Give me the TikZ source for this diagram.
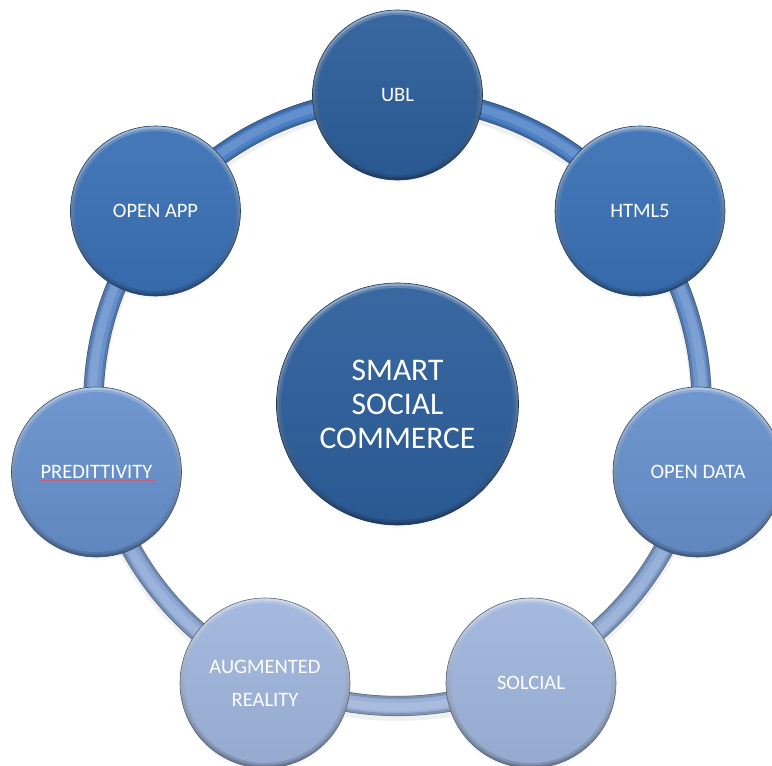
\documentclass[tikz,border=0pt]{standalone}
\usepackage{fontspec}
\setmainfont{Carlito}
\usetikzlibrary{shadows}
\definecolor{cCenter}{HTML}{2D5E9B}
\definecolor{cUBL}{HTML}{2C5E9A}
\definecolor{cTop}{HTML}{3A70B4}
\definecolor{cMid}{HTML}{6690CB}
\definecolor{cLow}{HTML}{9FB5DC}
\definecolor{ringT}{HTML}{467CC4}
\definecolor{ringB}{HTML}{9DB2D8}
\definecolor{spell}{HTML}{C0607A}
\tikzset{
  bub/.style={circle, minimum size=170pt, inner sep=0pt, text=white,
    font=\fontsize{20.5}{33}\selectfont, align=center,
    draw=#1!55!black, line width=0.6pt,
    top color=#1!50!white, bottom color=#1!65!black,
    path picture={
      \shade[top color=#1!75!white, bottom color=#1!80!black]
        (path picture bounding box.center) circle [radius=82.5pt];
      \shade[top color=#1!94!white, bottom color=#1!94!black]
        (path picture bounding box.center) circle [radius=80pt];},
    circular drop shadow={opacity=0.22, shadow xshift=0pt, shadow yshift=-4pt, shadow scale=1.0}},
  bigbub/.style={bub=#1, minimum size=242pt,
    font=\fontsize{31.5}{34}\selectfont,
    path picture={
      \shade[top color=#1!75!white, bottom color=#1!80!black]
        (path picture bounding box.center) circle [radius=118.5pt];
      \shade[top color=#1!94!white, bottom color=#1!94!black]
        (path picture bounding box.center) circle [radius=116pt];}},
  tubeedge/.style={black, opacity=0.16, line width=3pt},
}
\begin{document}
\begin{tikzpicture}[x=1pt,y=-1pt]
\clip (0,0) rectangle (772,766);
\fill[white] (0,0) rectangle (772,766);
% ring
\coordinate (ringc) at (397.5,402);
\draw[black, opacity=0.06, line width=22pt] ([yshift=-4pt]ringc) circle [radius=304pt];
\path[even odd rule, top color=ringT, bottom color=ringB]
  (ringc) circle [radius=314pt] (ringc) circle [radius=294pt];
\draw[tubeedge] (ringc) circle [radius=312.5pt];
\draw[tubeedge] (ringc) circle [radius=295.5pt];
\draw[black, opacity=0.3, line width=0.6pt] (ringc) circle [radius=313.8pt];
\draw[black, opacity=0.3, line width=0.6pt] (ringc) circle [radius=294.2pt];
\draw[white, opacity=0.14, line width=8pt] (ringc) circle [radius=305pt];
% nodes
\node[bigbub=cCenter] (center) at (397.5,404) {SMART\\SOCIAL\\COMMERCE};
\node[bub=cUBL] (ubl) at (397.5,95) {UBL};
\node[bub=cTop] (html) at (640,211) {HTML5};
\node[bub=cTop] (app) at (155.5,211) {OPEN APP};
\node[bub=cMid] (data) at (698,472) {OPEN DATA};
\node[bub=cMid] (pred) at (96.5,472) {PREDITTIVITY};
\node[bub=cLow] (sol) at (531,683) {SOLCIAL};
\node[bub=cLow] (aug) at (265,683) {AUGMENTED\\REALITY};
% spelling underline
\draw[spell, line width=0.7pt] ([xshift=-58pt,yshift=-8pt]pred.center) -- ([xshift=59pt,yshift=-8pt]pred.center);
\end{tikzpicture}
\end{document}
